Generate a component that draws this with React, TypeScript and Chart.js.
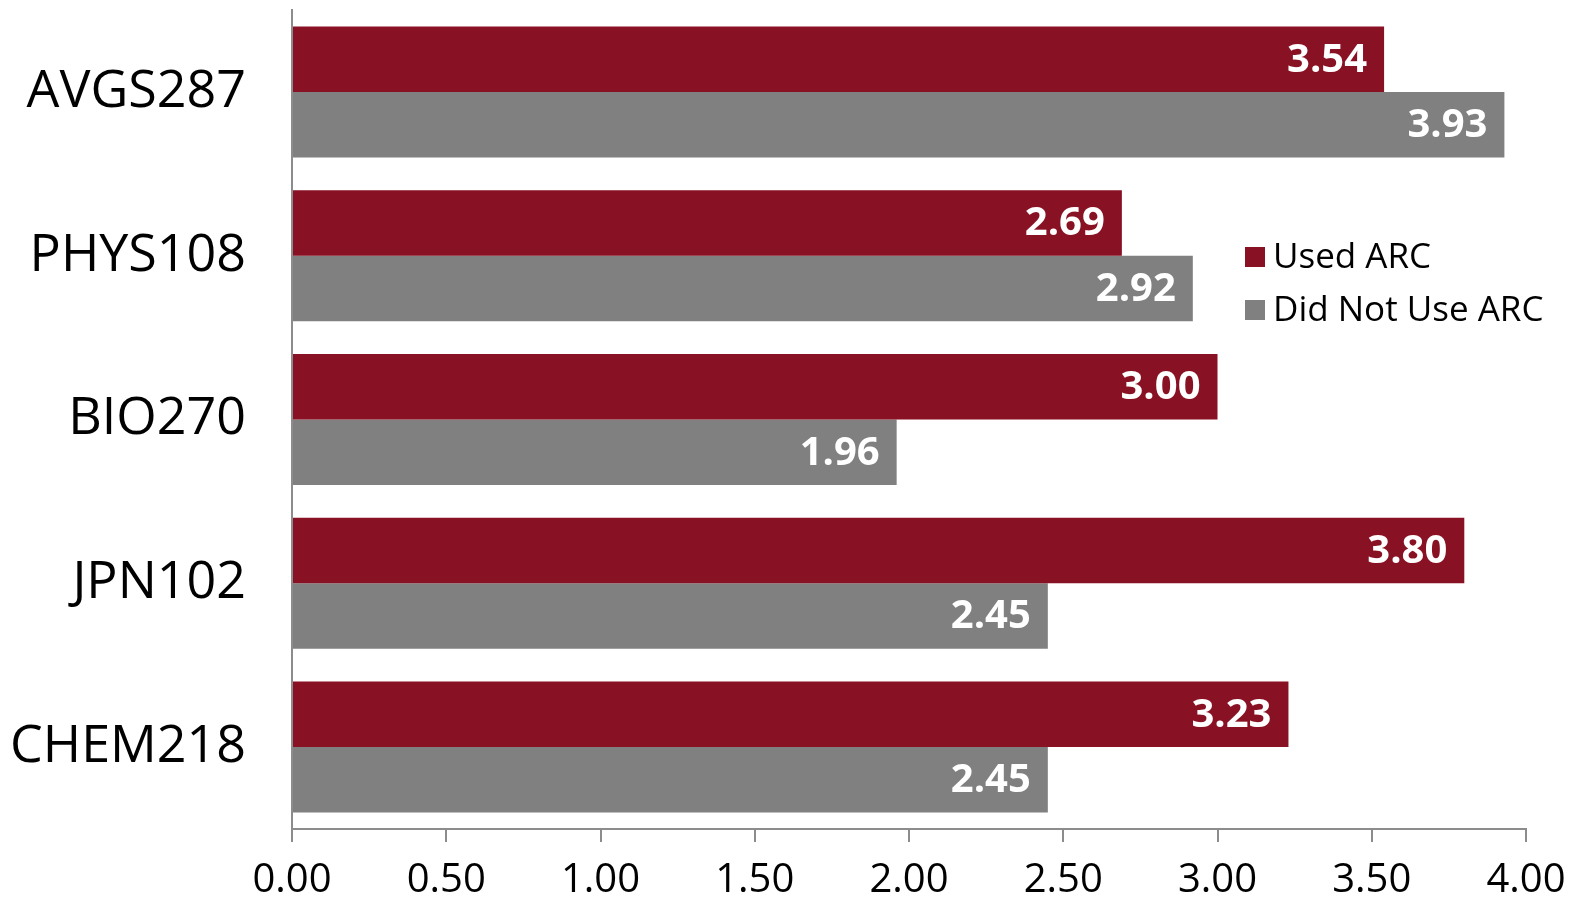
import React, { useEffect, useRef } from "react";
import { Chart, registerables } from "chart.js";

Chart.register(...registerables);

const categories = ["AVGS287", "PHYS108", "BIO270", "JPN102", "CHEM218"];
const usedArc = [3.54, 2.69, 3.0, 3.8, 3.23];
const notUsedArc = [3.93, 2.92, 1.96, 2.45, 2.45];
const seriesNames = ["Used ARC", "Did Not Use ARC"];
const xTicks = [0, 0.5, 1, 1.5, 2, 2.5, 3, 3.5, 4];

const RED = "#891124";
const GRAY = "#808080";
const AXIS = "#8c8c8c";
const FONT = "'Open Sans', 'DejaVu Sans', sans-serif";

const valueLabels = {
  id: "valueLabels",
  afterDatasetsDraw(chart: any) {
    const ctx = chart.ctx;
    ctx.save();
    ctx.fillStyle = "#ffffff";
    ctx.font = `bold 40px ${FONT}`;
    ctx.textAlign = "right";
    ctx.textBaseline = "middle";
    chart.data.datasets.forEach((ds: any, di: number) => {
      const meta = chart.getDatasetMeta(di);
      meta.data.forEach((bar: any, i: number) => {
        const v = ds.data[i];
        ctx.fillText(Number(v).toFixed(2), bar.x - 17, bar.y + 1);
      });
    });
    ctx.restore();
  },
};

const customLegend = {
  id: "customLegend",
  afterDraw(chart: any) {
    const ctx = chart.ctx;
    ctx.save();
    ctx.font = `35px ${FONT}`;
    ctx.textAlign = "left";
    ctx.textBaseline = "middle";
    chart.data.datasets.forEach((ds: any, i: number) => {
      const cy = 257 + i * 53;
      ctx.fillStyle = ds.backgroundColor;
      ctx.fillRect(1245, cy - 10, 20, 20);
      ctx.fillStyle = "#000000";
      ctx.fillText(ds.label, 1273, cy + 1);
    });
    ctx.restore();
  },
};

export default function App() {
  const ref = useRef<HTMLCanvasElement | null>(null);

  useEffect(() => {
    document.body.style.margin = "0";
    const chart = new Chart(ref.current as HTMLCanvasElement, {
      type: "bar",
      data: {
        labels: categories,
        datasets: [
          {
            label: seriesNames[0],
            data: usedArc,
            backgroundColor: RED,
            categoryPercentage: 0.8,
            barPercentage: 1.0,
          },
          {
            label: seriesNames[1],
            data: notUsedArc,
            backgroundColor: GRAY,
            categoryPercentage: 0.8,
            barPercentage: 1.0,
          },
        ],
      },
      options: {
        indexAxis: "y",
        animation: false,
        responsive: false,
        maintainAspectRatio: false,
        layout: { padding: { top: 10, right: 56, left: 0, bottom: 0 } },
        plugins: {
          legend: { display: false },
          tooltip: { enabled: false },
        },
        scales: {
          x: {
            min: 0,
            max: 4,
            afterBuildTicks: (scale: any) => {
              scale.ticks = xTicks.map((v) => ({ value: v }));
            },
            afterFit: (scale: any) => {
              scale.height = 70;
              scale.paddingLeft = 0;
              scale.paddingRight = 0;
            },
            grid: {
              drawOnChartArea: false,
              drawTicks: true,
              tickLength: 13,
              color: AXIS,
              lineWidth: 2,
            },
            border: { display: true, color: AXIS, width: 2 },
            ticks: {
              color: "#000000",
              font: { family: FONT, size: 40 },
              padding: 15,
              maxRotation: 0,
              callback: (v: any) => Number(v).toFixed(2),
            },
          },
          y: {
            afterFit: (scale: any) => {
              scale.width = 292;
              scale.paddingTop = 0;
              scale.paddingBottom = 0;
            },
            grid: { display: false, drawTicks: false },
            border: { display: true, color: AXIS, width: 2 },
            ticks: {
              color: "#000000",
              font: { family: FONT, size: 52 },
              padding: 46,
            },
          },
        },
      },
      plugins: [valueLabels, customLegend],
    });
    return () => chart.destroy();
  }, []);

  return (
    <div style={{ position: "fixed", left: 0, top: 0, width: 1582, height: 899, background: "#fff" }}>
      <canvas ref={ref} width={1582} height={899} style={{ width: 1582, height: 899 }} />
    </div>
  );
}
